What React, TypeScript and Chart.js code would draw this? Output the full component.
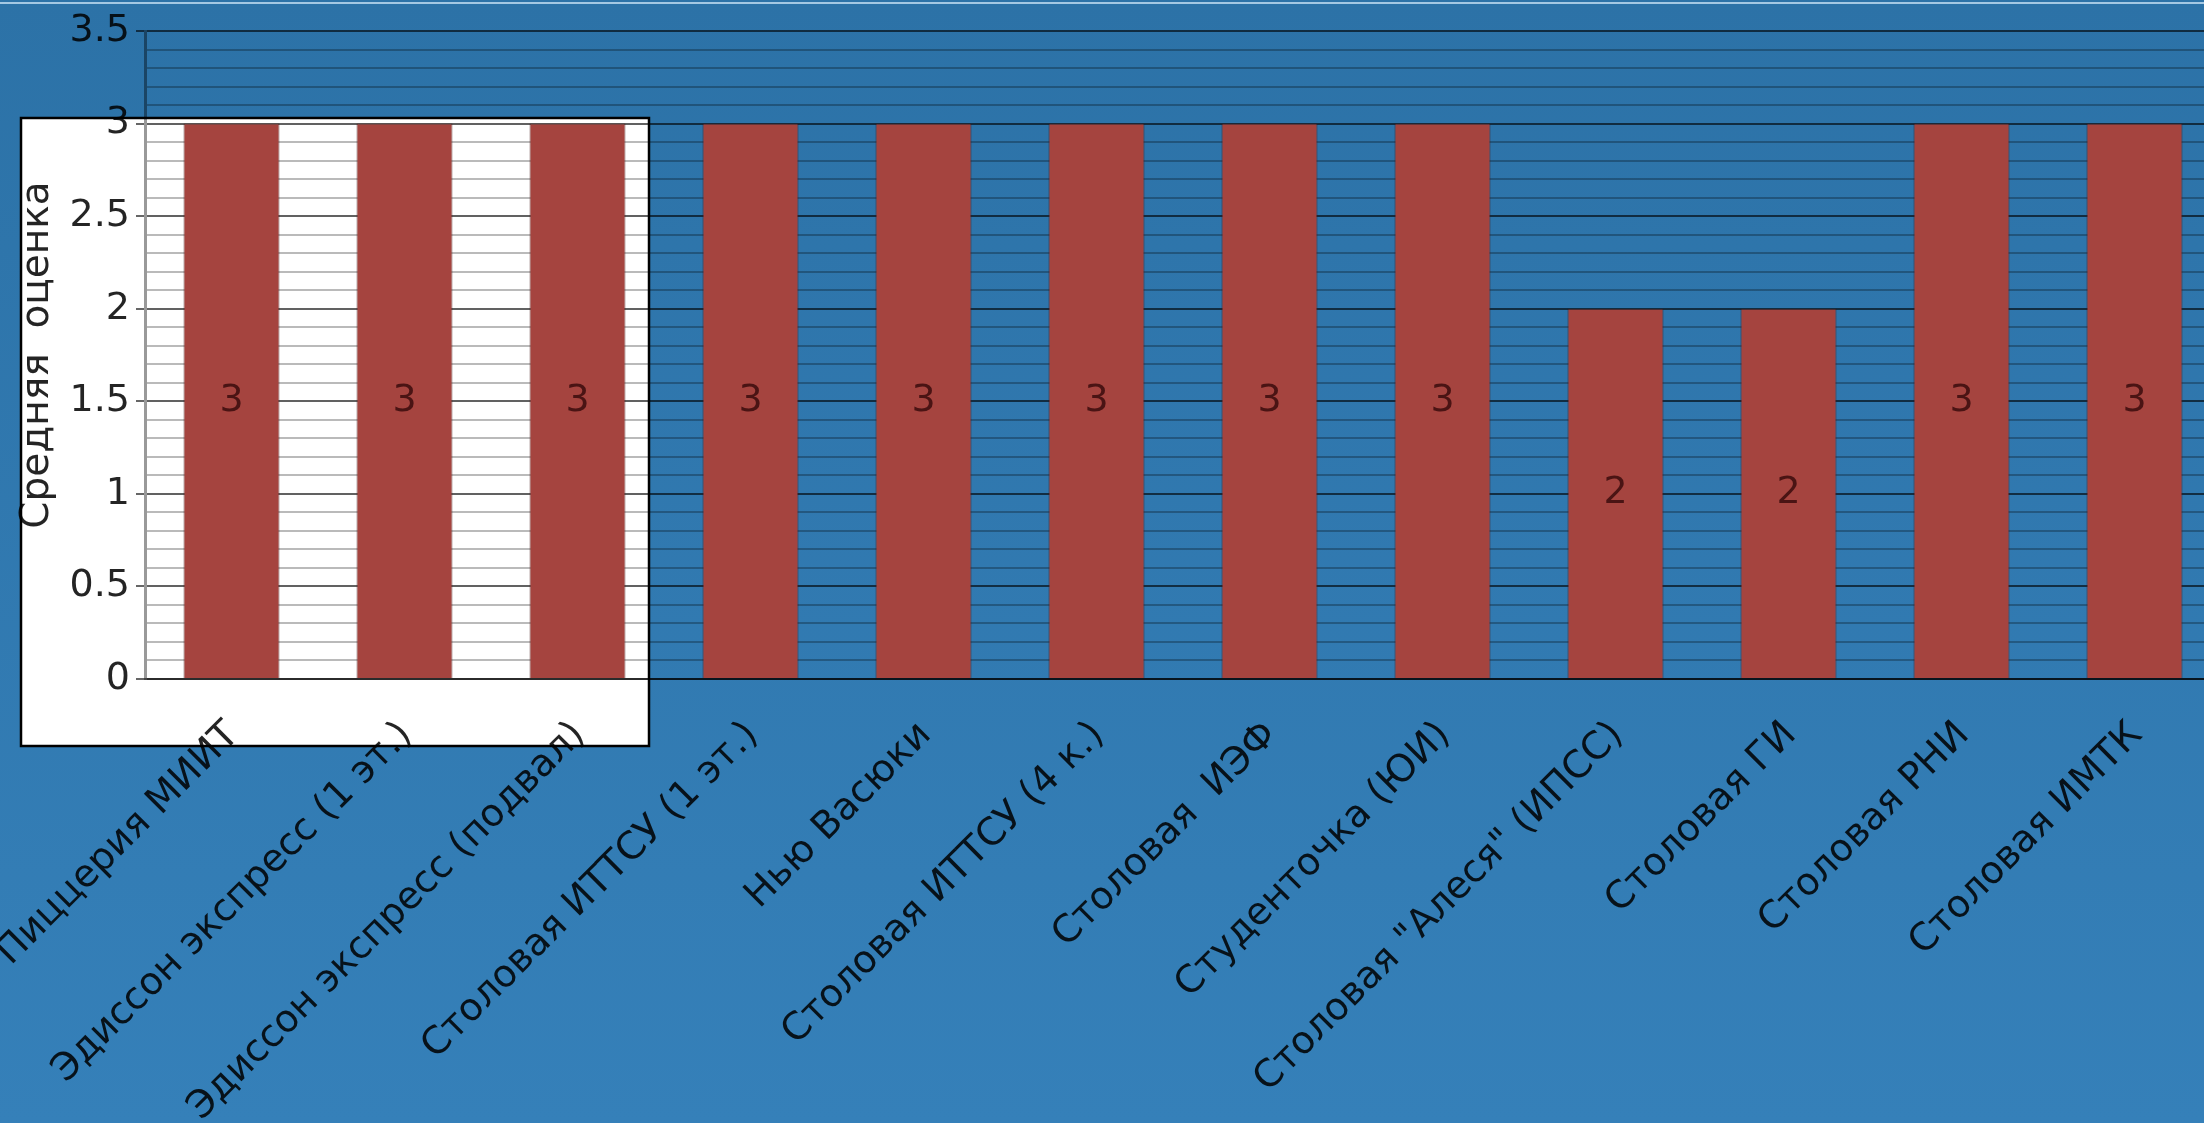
import React, { useEffect, useRef } from 'react';
import { Chart, registerables } from 'chart.js';

Chart.register(...registerables);

// ---- data ----
const categories: string[] = [
  'Пиццерия МИИТ',
  'Эдиссон экспресс (1 эт.)',
  'Эдиссон экспресс (подвал)',
  'Столовая ИТТСУ (1 эт.)',
  'Нью Васюки',
  'Столовая ИТТСУ (4 к.)',
  'Столовая  ИЭФ',
  'Студенточка (ЮИ)',
  'Столовая "Алеся" (ИПСС)',
  'Столовая ГИ',
  'Столовая РНИ',
  'Столовая ИМТК',
];
const scores: number[] = [3, 3, 3, 3, 3, 3, 3, 3, 2, 2, 3, 3];
const yAxisTitle = 'Средняя  оценка';
const yMin = 0;
const yMax = 3.5;
const yMinorStep = 0.1;
const yMajorStep = 0.5;

// ---- styles / layout ----
const CANVAS_W = 2221;
const CANVAS_H = 1123;
const PANEL = { left: 21, top: 118, right: 649, bottom: 746 };
const FONT = 'DejaVu Sans';
const TEXT = 'rgba(0,0,0,0.86)';

const isMajor = (v: number) => {
  const r = v / yMajorStep;
  return Math.abs(r - Math.round(r)) < 1e-6;
};

const bgPlugin = {
  id: 'bgPanel',
  beforeDraw(chart: any) {
    const { ctx, width, height } = chart;
    ctx.save();
    const g = ctx.createLinearGradient(0, 0, 0, height);
    g.addColorStop(0, '#2c72a7');
    g.addColorStop(1, '#3580b9');
    ctx.fillStyle = g;
    ctx.fillRect(0, 0, width, height);
    ctx.fillStyle = '#a4c8e3';
    ctx.fillRect(0, 2, width, 2);
    ctx.fillStyle = '#ffffff';
    ctx.fillRect(PANEL.left, PANEL.top, PANEL.right - PANEL.left, PANEL.bottom - PANEL.top);
    ctx.restore();
  },
  afterDraw(chart: any) {
    const { ctx } = chart;
    ctx.save();
    ctx.strokeStyle = '#000000';
    ctx.lineWidth = 2.5;
    ctx.strokeRect(PANEL.left, PANEL.top, PANEL.right - PANEL.left, PANEL.bottom - PANEL.top);
    ctx.restore();
  },
};

const valueLabelPlugin = {
  id: 'valueLabels',
  afterDatasetsDraw(chart: any) {
    const { ctx } = chart;
    const meta = chart.getDatasetMeta(0);
    ctx.save();
    ctx.font = `38px "${FONT}"`;
    ctx.fillStyle = '#4a1414';
    ctx.textAlign = 'center';
    ctx.textBaseline = 'middle';
    meta.data.forEach((bar: any, i: number) => {
      const { x, y, base } = bar.getProps(['x', 'y', 'base'], true);
      ctx.fillText(String(scores[i]), x, (y + base) / 2);
    });
    ctx.restore();
  },
};

export default function App() {
  const ref = useRef<HTMLCanvasElement | null>(null);

  useEffect(() => {
    if (!ref.current) return;
    const chart = new Chart(ref.current, {
      type: 'bar',
      data: {
        labels: categories,
        datasets: [
          {
            data: scores,
            backgroundColor: '#a5443f',
            borderColor: 'rgba(70,25,25,0.7)',
            borderWidth: 1,
            categoryPercentage: 1,
            barPercentage: 0.555,
          },
        ],
      },
      options: {
        responsive: false,
        maintainAspectRatio: false,
        animation: false,
        devicePixelRatio: 1,
        layout: { padding: { top: 31, left: 0, right: 0, bottom: 0 } },
        plugins: {
          legend: { display: false },
          tooltip: { enabled: false },
          title: { display: false },
        },
        scales: {
          x: {
            grid: { display: false },
            border: { display: true, color: 'rgba(0,0,0,0.55)', width: 2 },
            ticks: {
              autoSkip: false,
              maxRotation: 45,
              minRotation: 45,
              labelOffset: 2,
              padding: 26,
              color: TEXT,
              font: { family: FONT, size: 38 },
            },
            afterFit(scale: any) {
              scale.height = CANVAS_H - 679;
              scale.paddingLeft = 0;
              scale.paddingRight = 0;
            },
          },
          y: {
            min: yMin,
            max: yMax,
            border: { display: true, color: 'rgba(0,0,0,0.4)', width: 3 },
            grid: {
              drawTicks: true,
              tickLength: 9,
              lineWidth: 2,
              color: (c: any) => (isMajor(c.tick.value) ? 'rgba(0,0,0,0.62)' : 'rgba(0,0,0,0.27)'),
              tickColor: (c: any) => (isMajor(c.tick.value) ? 'rgba(0,0,0,0.6)' : 'rgba(0,0,0,0)'),
            },
            ticks: {
              stepSize: yMinorStep,
              autoSkip: false,
              padding: 6,
              color: TEXT,
              font: { family: FONT, size: 38 },
              callback: (v: any) => {
                const n = Math.round(Number(v) * 10) / 10;
                return isMajor(n) ? String(n) : '';
              },
            },
            title: {
              display: true,
              text: yAxisTitle,
              color: TEXT,
              font: { family: FONT, size: 39 },
              padding: { top: 14, bottom: 0 },
            },
            afterFit(scale: any) {
              scale.width = 145;
            },
          },
        },
      },
      plugins: [bgPlugin, valueLabelPlugin],
    } as any);
    return () => chart.destroy();
  }, []);

  return (
    <div style={{ position: 'fixed', left: 0, top: 0, width: CANVAS_W, height: CANVAS_H, overflow: 'hidden' }}>
      <canvas ref={ref} width={CANVAS_W} height={CANVAS_H} style={{ display: 'block' }} />
    </div>
  );
}
